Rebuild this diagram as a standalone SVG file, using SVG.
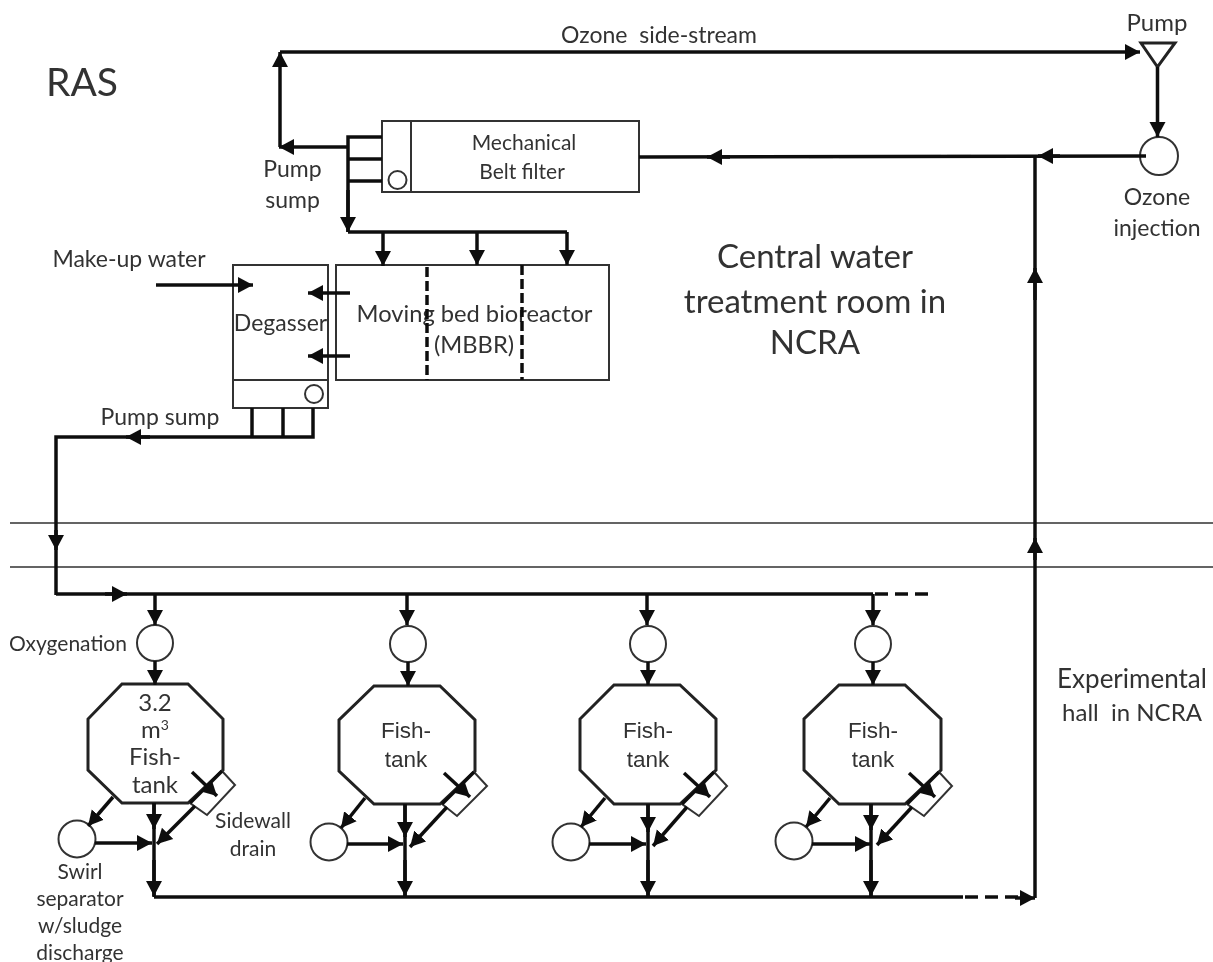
<svg xmlns="http://www.w3.org/2000/svg" width="1213" height="962" viewBox="0 0 1213 962">
<style>
text{font-family:"Lato","Liberation Sans",sans-serif;fill:#333;text-anchor:middle;font-size:21px}
.a{font-family:"Liberation Sans",Arial,sans-serif;font-size:22.500px}
.t{font-size:24px}
.m{font-size:23px}
.l{font-size:33px}
.sh{fill:#fff;stroke:#333;stroke-width:2}
.o{fill:#fff;stroke:#222;stroke-width:3}
.c{fill:none;stroke:#111;stroke-width:3.500}
.ar{marker-end:url(#h)}
.th{fill:none;stroke:#333;stroke-width:1.500}
</style>
<defs>
<marker id="h" markerUnits="userSpaceOnUse" markerWidth="17" markerHeight="17" refX="15" refY="8.500" orient="auto"><path d="M0 0.500L15 8.500L0 16.500Z" fill="#111"/></marker>
<filter id="b" x="0" y="0" width="100%" height="100%"><feGaussianBlur stdDeviation="0.450"/></filter>
</defs>
<rect width="1213" height="962" fill="#fff"/>
<g filter="url(#b)">
<g id="walls"><path class="th" d="M10 523H1213M10 567H1213"/></g>
<g id="belt-filter"><rect class="sh" x="382" y="121" width="257" height="71"/><path class="sh" d="M411 121V192"/><circle class="sh" cx="397.500" cy="180" r="9"/><text x="524" y="150">Mechanical</text><text x="522" y="179">Belt filter</text></g>
<g id="mbbr"><rect class="sh" x="336" y="265" width="273" height="115"/><text class="m" x="474.500" y="322" style="font-size:23.700px">Moving bed bioreactor</text><text class="m" x="474" y="353" style="font-size:23.700px">(MBBR)</text><path d="M427 267V380M522 265V380" fill="none" stroke="#111" stroke-width="3.500" stroke-dasharray="10 4"/></g>
<g id="degasser"><rect class="sh" x="233" y="265" width="95" height="143"/><path class="sh" d="M233 380H328"/><circle class="sh" cx="314" cy="394" r="9"/><text class="m" x="280.500" y="331">Degasser</text></g>
<g id="pump"><path class="o" d="M1141 43H1175L1157.500 67Z"/><text class="t" x="1157" y="31">Pump</text></g>
<g id="ozone-injection"><circle class="sh" cx="1159" cy="156" r="19"/><text class="m" x="1157" y="205">Ozone</text><text class="m" x="1157" y="236">injection</text></g>
<g id="oxygenation-1"><circle class="sh" cx="155" cy="643" r="18"/><text x="68" y="651">Oxygenation</text></g>
<g id="oxygenation-2"><circle class="sh" cx="408" cy="644" r="18"/></g>
<g id="oxygenation-3"><circle class="sh" cx="648" cy="644" r="18"/></g>
<g id="oxygenation-4"><circle class="sh" cx="873" cy="644" r="18"/></g>
<g id="tank-1"><path class="o" d="M122 684H188L223 719V770L188 803H122L88 770V719Z"/><path class="sh" d="M190 803L222 771L235 785L207 815Z"/><path class="c" d="M190 803L222 771"/><text class="t" x="155" y="711">3.2</text><text class="t" x="155" y="738">m<tspan dy="-8" style="font-size:14px">3</tspan></text><text class="t" x="155" y="765">Fish-</text><text class="t" x="155" y="793">tank</text></g>
<g id="tank-2"><path class="o" d="M374 686H440L475 720V771L440 804H374L339 771V720Z"/><path class="sh" d="M442 804L474 772L487 786L457 816Z"/><path class="c" d="M442 804L474 772"/><text class="a" x="406" y="738">Fish-</text><text class="a" x="406" y="767">tank</text></g>
<g id="tank-3"><path class="o" d="M614 685H680L716 719V770L680 804H614L580 770V719Z"/><path class="sh" d="M682 804L714 772L727 786L699 816Z"/><path class="c" d="M682 804L714 772"/><text class="a" x="648" y="738">Fish-</text><text class="a" x="648" y="767">tank</text></g>
<g id="tank-4"><path class="o" d="M839 685H905L941 719V770L905 804H839L804 770V719Z"/><path class="sh" d="M907 804L939 772L952 786L924 816Z"/><path class="c" d="M907 804L939 772"/><text class="a" x="873" y="738">Fish-</text><text class="a" x="873" y="767">tank</text></g>
<g id="swirl-1"><circle class="sh" cx="77" cy="839" r="18.500"/></g>
<g id="swirl-2"><circle class="sh" cx="329" cy="842" r="18.500"/></g>
<g id="swirl-3"><circle class="sh" cx="571" cy="842" r="18.500"/></g>
<g id="swirl-4"><circle class="sh" cx="794" cy="841" r="18.500"/></g>
<g id="connectors">
<path class="c ar" d="M280 147V52"/><path class="c ar" d="M280 52H1140"/>
<path class="c ar" d="M348 147H279"/>
<path class="c" d="M382 137H348V232M382 159H348M382 181H348"/><path class="c ar" d="M348 190V232"/>
<path class="c" d="M348 232H567"/><path class="c ar" d="M383 232V266"/><path class="c ar" d="M477 232V265"/><path class="c ar" d="M567 232V265"/>
<path class="c ar" d="M156 285H253"/><path class="c ar" d="M350 293H308"/><path class="c ar" d="M350 356H308"/>
<path class="c" d="M252 408V437M283 408V437M313 408V437H56V595"/><path class="c ar" d="M150 437H126"/><path class="c ar" d="M56 530V550"/>
<path class="c" d="M56 594H873"/><path class="c" stroke-dasharray="13 7" d="M875 594H935"/><path class="c ar" d="M105 594H127"/>
<path class="c ar" d="M155 594V625"/><path class="c ar" d="M155 661V685"/><path class="c ar" d="M407 594V625"/><path class="c ar" d="M408 662V686"/><path class="c ar" d="M647 594V625"/><path class="c ar" d="M648 662V685"/><path class="c ar" d="M873 594V625"/><path class="c ar" d="M873 662V685"/>
<path class="c ar" d="M192 772L217 796"/><path class="c ar" d="M113 797L88 826"/><path class="c ar" d="M195 806L157 844"/><path class="c ar" d="M95 843H152"/><path class="c" d="M154 803V897"/><path class="c ar" d="M154 803V829"/><path class="c ar" d="M154 860V896"/>
<path class="c ar" d="M444 773L470 797"/><path class="c ar" d="M365 798L341 828"/><path class="c ar" d="M447 807L410 847"/><path class="c ar" d="M347 844H403"/><path class="c" d="M405 804V897"/><path class="c ar" d="M405 804V837"/><path class="c ar" d="M405 860V896"/>
<path class="c ar" d="M684 773L710 797"/><path class="c ar" d="M605 798L581 827"/><path class="c ar" d="M687 807L653 846"/><path class="c ar" d="M589 844H646"/><path class="c" d="M648 804V897"/><path class="c ar" d="M648 804V832"/><path class="c ar" d="M648 860V896"/>
<path class="c ar" d="M909 773L935 797"/><path class="c ar" d="M830 798L806 827"/><path class="c ar" d="M912 807L877 845"/><path class="c ar" d="M812 844H870"/><path class="c" d="M871 804V897"/><path class="c ar" d="M871 804V830"/><path class="c ar" d="M871 860V896"/>
<path class="c" d="M154 897H963"/><path class="c" stroke-dasharray="13 7" d="M965 897H1020"/><path class="c ar" d="M1015 898H1035"/>
<path class="c" d="M1035 898V157"/><path class="c ar" d="M1035 300V268"/><path class="c ar" d="M1035 560V538"/>
<path class="c" d="M1146 156L639 157"/><path class="c ar" d="M730 157H707"/><path class="c ar" d="M1060 156H1038"/>
<path class="c ar" d="M1157.500 67V137"/>
</g>
<g id="labels">
<text x="82" y="96" style="font-size:39px">RAS</text>
<text class="m" x="659" y="43">Ozone&#160; side-stream</text>
<text class="m" x="292.500" y="177">Pump</text><text class="m" x="292.500" y="208">sump</text>
<text class="m" x="129" y="267">Make-up water</text>
<text class="m" x="160" y="425">Pump sump</text>
<text class="l" x="815" y="268">Central water</text><text class="l" x="815" y="313">treatment room in</text><text class="l" x="815" y="354">NCRA</text>
<text x="253" y="828">Sidewall</text><text x="253" y="856">drain</text>
<text x="80" y="879">Swirl</text><text x="80" y="906">separator</text><text x="80" y="933">w/sludge</text><text x="80" y="960">discharge</text>
<text x="1132" y="688" style="font-size:26px">Experimental</text><text x="1132" y="721" style="font-size:24px">hall&#160; in NCRA</text>
</g>
</g>
</svg>
